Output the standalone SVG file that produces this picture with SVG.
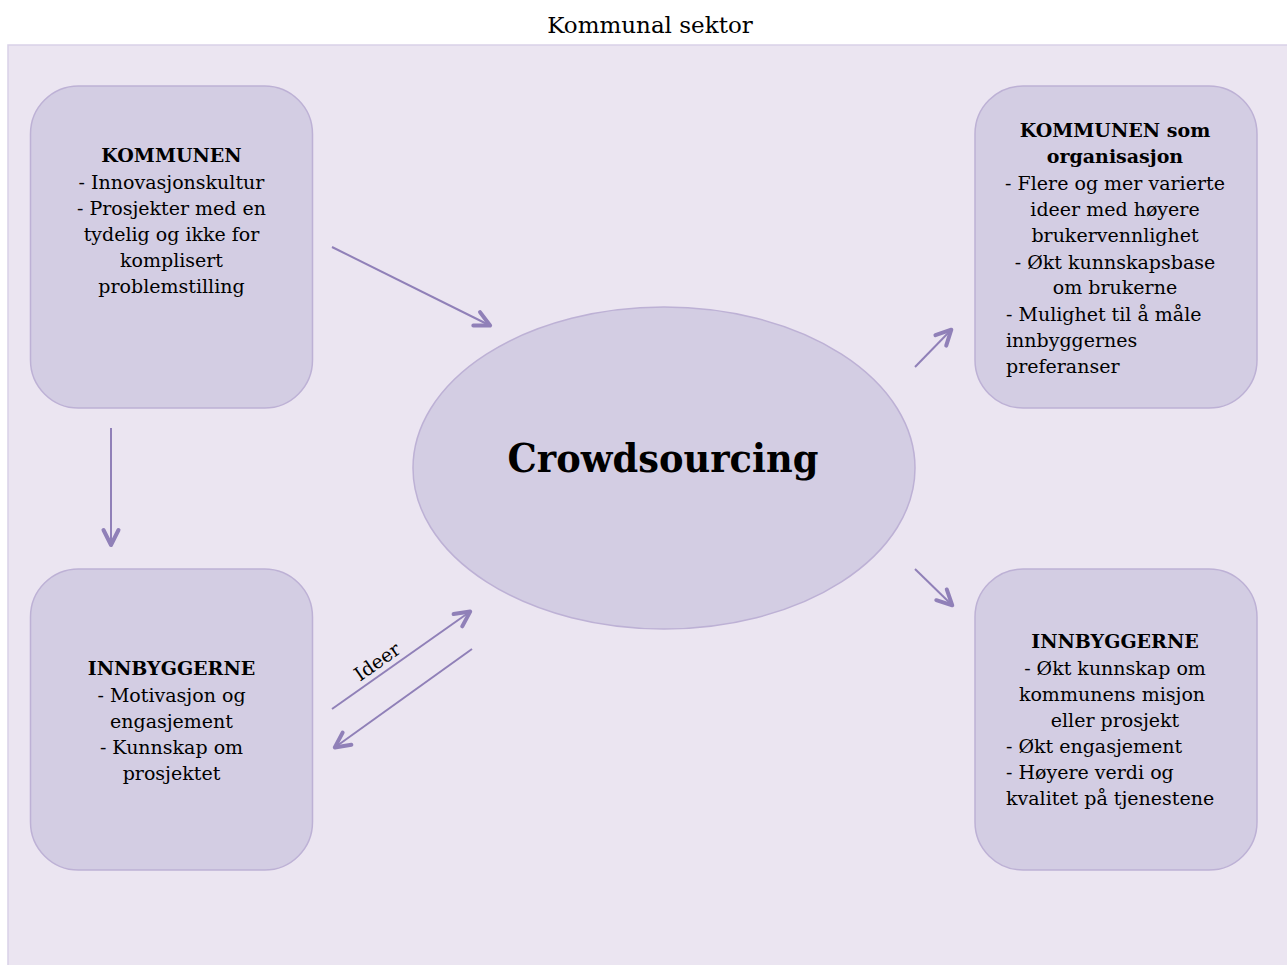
<svg xmlns="http://www.w3.org/2000/svg" width="1287" height="965" viewBox="0 0 1287 965">
<style>
.bg{fill:#EBE5F1;stroke:#D9D1E7;stroke-width:1.5}
.node{fill:#D3CDE3;stroke:#BDB1D5;stroke-width:1.5}
.t{font-family:"DejaVu Serif","Liberation Serif",serif;font-size:19px;fill:#000}
.c{text-anchor:middle}
.b{font-weight:bold}
.conn{stroke:#9080B8;stroke-width:2;fill:none}
</style>
<defs>
<marker id="ah" markerUnits="userSpaceOnUse" markerWidth="40" markerHeight="40" viewBox="-20 -20 40 40" refX="1" refY="0" orient="auto" overflow="visible">
<path d="M-15,-7.5 L0,0 L-15,7.5" fill="none" stroke="#9080B8" stroke-width="4" stroke-linecap="round" stroke-linejoin="round"/>
</marker>
</defs>
<rect x="0" y="0" width="1287" height="965" fill="#FFFFFF"/>
<text x="650" y="33" class="t c" style="font-size:23px">Kommunal sektor</text>
<rect class="bg" x="8" y="45" width="1290" height="930"/>

<g id="connectors">
<line class="conn" x1="332" y1="247" x2="491" y2="326" marker-end="url(#ah)"/>
<line class="conn" x1="111" y1="428" x2="111" y2="546" marker-end="url(#ah)"/>
<line class="conn" x1="915" y1="367" x2="952" y2="329" marker-end="url(#ah)"/>
<line class="conn" x1="915" y1="569" x2="953" y2="606" marker-end="url(#ah)"/>
<line class="conn" x1="332" y1="709" x2="471" y2="611" marker-end="url(#ah)"/>
<line class="conn" x1="472" y1="649" x2="334" y2="748" marker-end="url(#ah)"/>
<text class="t c" x="0" y="0" transform="translate(381,667) rotate(-35)">Ideer</text>
</g>

<g id="crowdsourcing">
<ellipse class="node" cx="664" cy="468" rx="251" ry="161"/>
<text class="t c b" x="663" y="472" style="font-size:39px" textLength="311" lengthAdjust="spacingAndGlyphs">Crowdsourcing</text>
</g>

<g id="kommunen">
<rect class="node" x="30.5" y="86" width="282" height="322" rx="48" ry="48"/>
<text class="t c b" x="171.5" y="162">KOMMUNEN</text>
<text class="t c" x="171.5" y="188.5">- Innovasjonskultur</text>
<text class="t c" x="171.5" y="215">- Prosjekter med en</text>
<text class="t c" x="171.5" y="241">tydelig og ikke for</text>
<text class="t c" x="171.5" y="267">komplisert</text>
<text class="t c" x="171.5" y="293">problemstilling</text>
</g>

<g id="kommunen-org">
<rect class="node" x="975" y="86" width="282" height="322" rx="48" ry="48"/>
<text class="t c b" x="1115" y="137">KOMMUNEN som</text>
<text class="t c b" x="1115" y="163">organisasjon</text>
<text class="t c" x="1115" y="190">- Flere og mer varierte</text>
<text class="t c" x="1115" y="216">ideer med høyere</text>
<text class="t c" x="1115" y="242">brukervennlighet</text>
<text class="t c" x="1115" y="268.5">- Økt kunnskapsbase</text>
<text class="t c" x="1115" y="294">om brukerne</text>
<text class="t" x="1006" y="320.5">- Mulighet til å måle</text>
<text class="t" x="1006" y="346.5">innbyggernes</text>
<text class="t" x="1006" y="372.5">preferanser</text>
</g>

<g id="innbyggerne">
<rect class="node" x="30.5" y="569" width="282" height="301" rx="48" ry="48"/>
<text class="t c b" x="171.5" y="675">INNBYGGERNE</text>
<text class="t c" x="171.5" y="702">- Motivasjon og</text>
<text class="t c" x="171.5" y="728">engasjement</text>
<text class="t c" x="171.5" y="753.5">- Kunnskap om</text>
<text class="t c" x="171.5" y="780">prosjektet</text>
</g>

<g id="innbyggerne-result">
<rect class="node" x="975" y="569" width="282" height="301" rx="48" ry="48"/>
<text class="t c b" x="1115" y="648">INNBYGGERNE</text>
<text class="t c" x="1115" y="674.5">- Økt kunnskap om</text>
<text class="t c" x="1112" y="700.5">kommunens misjon</text>
<text class="t c" x="1115" y="726.5">eller prosjekt</text>
<text class="t" x="1006" y="752.5">- Økt engasjement</text>
<text class="t" x="1006" y="779">- Høyere verdi og</text>
<text class="t" x="1006" y="805">kvalitet på tjenestene</text>
</g>
</svg>
